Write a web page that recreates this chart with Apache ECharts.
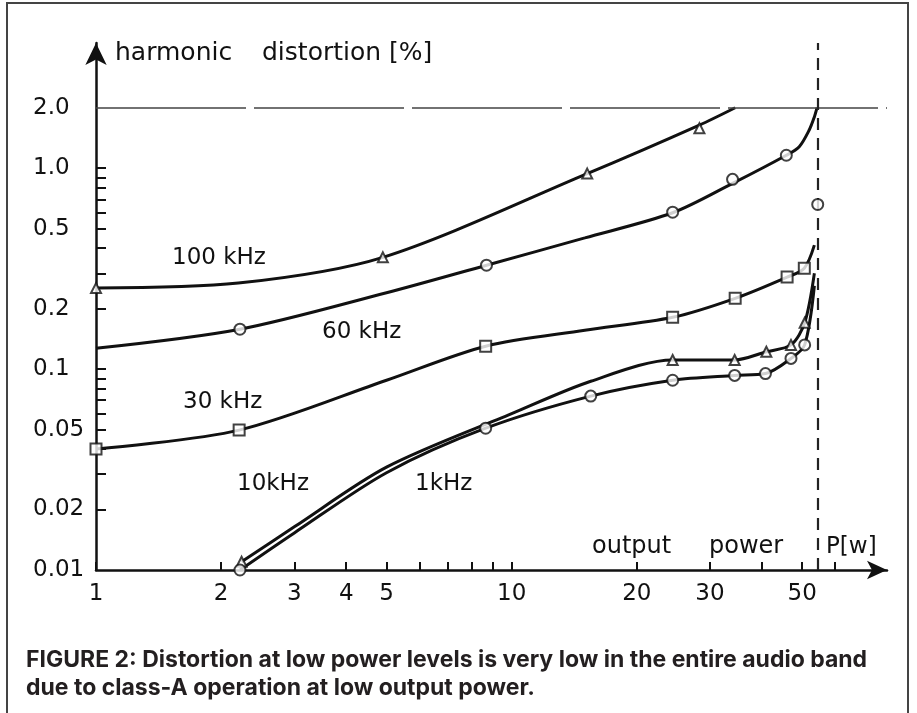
<!DOCTYPE html>
<html><head><meta charset="utf-8">
<script src="https://cdn.jsdelivr.net/npm/echarts@6/dist/echarts.min.js"></script>
<style>html,body{margin:0;padding:0;background:#fff;}#c{width:917px;height:713px;}</style>
</head><body><div id="c"></div>
<script>
// ---- axis ticks / labels ----
const xTickLabels = [1, 2, 3, 4, 5, 10, 20, 30, 50];
const xTicks = [1, 2, 3, 4, 5, 6, 7, 8, 9, 10, 20, 30, 40, 50, 60];
const yTickValues = [0.01, 0.02, 0.05, 0.1, 0.2, 0.5, 1, 2];
const yTickLabels = ['0.01', '0.02', '0.05', '0.1', '0.2', '0.5', '1.0', '2.0'];
const yTicks = [0.02, 0.03, 0.04, 0.05, 0.06, 0.07, 0.08, 0.09, 0.1, 0.2, 0.3, 0.4, 0.5, 0.6, 0.7, 0.8, 0.9, 1.0];

// ---- curves [P (W), THD (%)] ----
const curve100k = [[1, 0.253], [2.2, 0.268], [4.9, 0.36], [15.2, 0.94], [28.3, 1.64], [34.5, 2.0]];
const curve60k = [[1, 0.127], [2.22, 0.158], [5, 0.24], [8.7, 0.329], [15, 0.45], [24.4, 0.60], [34, 0.84], [45.8, 1.16], [49.2, 1.28], [52, 1.55], [53.5, 1.8], [54.3, 2.0]];
const curve30k = [[1, 0.040], [2.21, 0.0497], [5, 0.088], [8.66, 0.130], [15, 0.156], [24.4, 0.181], [34.5, 0.225], [46, 0.287], [50.6, 0.318], [53.5, 0.414]];
const curve10k = [[2.24, 0.011], [3, 0.0164], [5, 0.0325], [10, 0.060], [15.5, 0.087], [24.4, 0.111], [34.4, 0.111], [41, 0.122], [47, 0.132], [50.7, 0.17], [53.5, 0.30]];
const curve1k = [[2.22, 0.01], [3, 0.0153], [5, 0.0305], [8.66, 0.0508], [15.5, 0.0734], [24.4, 0.088], [34.4, 0.093], [40.8, 0.095], [47, 0.113], [50.7, 0.132], [53.5, 0.26]];

// ---- measured points ----
const pts100k = [[1, 0.253], [4.9, 0.36], [15.2, 0.94], [28.3, 1.58]];
const pts60k = [[2.22, 0.158], [8.7, 0.329], [24.4, 0.604], [34, 0.88], [45.8, 1.16], [54.5, 0.66]];
const pts30k = [[1, 0.040], [2.21, 0.0497], [8.66, 0.130], [24.4, 0.181], [34.5, 0.225], [46, 0.287], [50.6, 0.318]];
const pts10k = [[2.24, 0.011], [24.4, 0.111], [34.4, 0.111], [41, 0.122], [47, 0.132], [50.7, 0.17]];
const pts1k = [[2.22, 0.01], [8.66, 0.0508], [15.5, 0.0734], [24.4, 0.088], [34.4, 0.093], [40.8, 0.095], [47, 0.113], [50.7, 0.132]];

const limitTHD = 2.0;
const limitPower = 54.5;

const INK = '#111';
const FONT = 'DejaVu Sans';

function lineSeries(name, data) {
  return { name, type: 'line', data, symbol: 'none', smooth: 0.3,
    lineStyle: { color: INK, width: 3 }, z: 3, silent: true };
}
function markerSeries(name, data, symbol, size) {
  return { name, type: 'scatter', data, symbol, symbolSize: size,
    itemStyle: { color: '#fff', borderColor: INK, borderWidth: 2 }, z: 5, silent: true };
}
function txt(x, y, text, size) {
  return { type: 'text', x, y, style: { text, font: size + 'px "DejaVu Sans"', fill: INK, verticalAlign: 'middle' } };
}

const chart = echarts.init(document.getElementById('c'), null, { renderer: 'canvas' });
chart.setOption({
  animation: false,
  backgroundColor: '#fff',
  grid: { left: 96, right: 30, top: 43, bottom: 143 },
  xAxis: {
    type: 'log', logBase: 10, min: 1, max: 80,
    axisLine: { lineStyle: { color: INK, width: 2.5 }, symbol: ['none', 'arrow'], symbolSize: [14, 20] },
    axisTick: { inside: true, length: 8, lineStyle: { color: INK, width: 2 }, customValues: xTicks },
    minorTick: { show: false },
    splitLine: { show: false },
    axisLabel: { customValues: xTickLabels, color: INK, fontFamily: FONT, fontSize: 23, margin: 13 }
  },
  yAxis: {
    type: 'log', logBase: 10, min: 0.01, max: 4.2,
    axisLine: { lineStyle: { color: INK, width: 2.5 }, symbol: ['none', 'arrow'], symbolSize: [16, 22] },
    axisTick: { inside: true, length: 10, lineStyle: { color: INK, width: 2 }, customValues: yTicks },
    minorTick: { show: false },
    splitLine: { show: false },
    axisLabel: {
      customValues: yTickValues, color: INK, fontFamily: FONT, fontSize: 23, margin: 63, align: 'left',
      formatter: function (v) {
        let best = 0, bd = Infinity;
        yTickValues.forEach((t, i) => { const d = Math.abs(Math.log(t) - Math.log(v)); if (d < bd) { bd = d; best = i; } });
        return yTickLabels[best];
      }
    }
  },
  series: [
    Object.assign(lineSeries('100 kHz', curve100k), {
      markLine: {
        silent: true, symbol: 'none', label: { show: false },
        data: [
          { yAxis: limitTHD, lineStyle: { color: '#444', width: 1.6, type: [150, 8] } },
          { xAxis: limitPower, lineStyle: { color: '#222', width: 2.2, type: [12, 8] } }
        ]
      }
    }),
    lineSeries('60 kHz', curve60k),
    lineSeries('30 kHz', curve30k),
    lineSeries('10 kHz', curve10k),
    lineSeries('1 kHz', curve1k),
    markerSeries('100 kHz pts', pts100k, 'triangle', 10),
    markerSeries('60 kHz pts', pts60k, 'circle', 11),
    markerSeries('30 kHz pts', pts30k, 'rect', 11),
    markerSeries('10 kHz pts', pts10k, 'triangle', 10),
    markerSeries('1 kHz pts', pts1k, 'circle', 11)
  ],
  graphic: [
    { type: 'rect', shape: { x: 7, y: 3, width: 901, height: 730 }, style: { fill: 'none', stroke: '#444', lineWidth: 2 }, z: 0 },
    txt(115, 53, 'harmonic', 25),
    txt(262, 53, 'distortion [%]', 25),
    txt(172, 258, '100 kHz', 23),
    txt(322, 332, '60 kHz', 23),
    txt(183, 402, '30 kHz', 23),
    txt(237, 484, '10kHz', 23),
    txt(415, 484, '1kHz', 23),
    txt(592, 547, 'output', 24),
    txt(709, 547, 'power', 24),
    txt(826, 547, 'P[w]', 23),
    { type: 'text', x: 26, y: 660, style: { text: 'FIGURE 2: Distortion at low power levels is very low in the entire audio band', font: 'bold 23px Inter', fill: '#231f20', verticalAlign: 'middle' } },
    { type: 'text', x: 26, y: 688, style: { text: 'due to class-A operation at low output power.', font: 'bold 23px Inter', fill: '#231f20', verticalAlign: 'middle' } }
  ]
});
</script></body></html>
